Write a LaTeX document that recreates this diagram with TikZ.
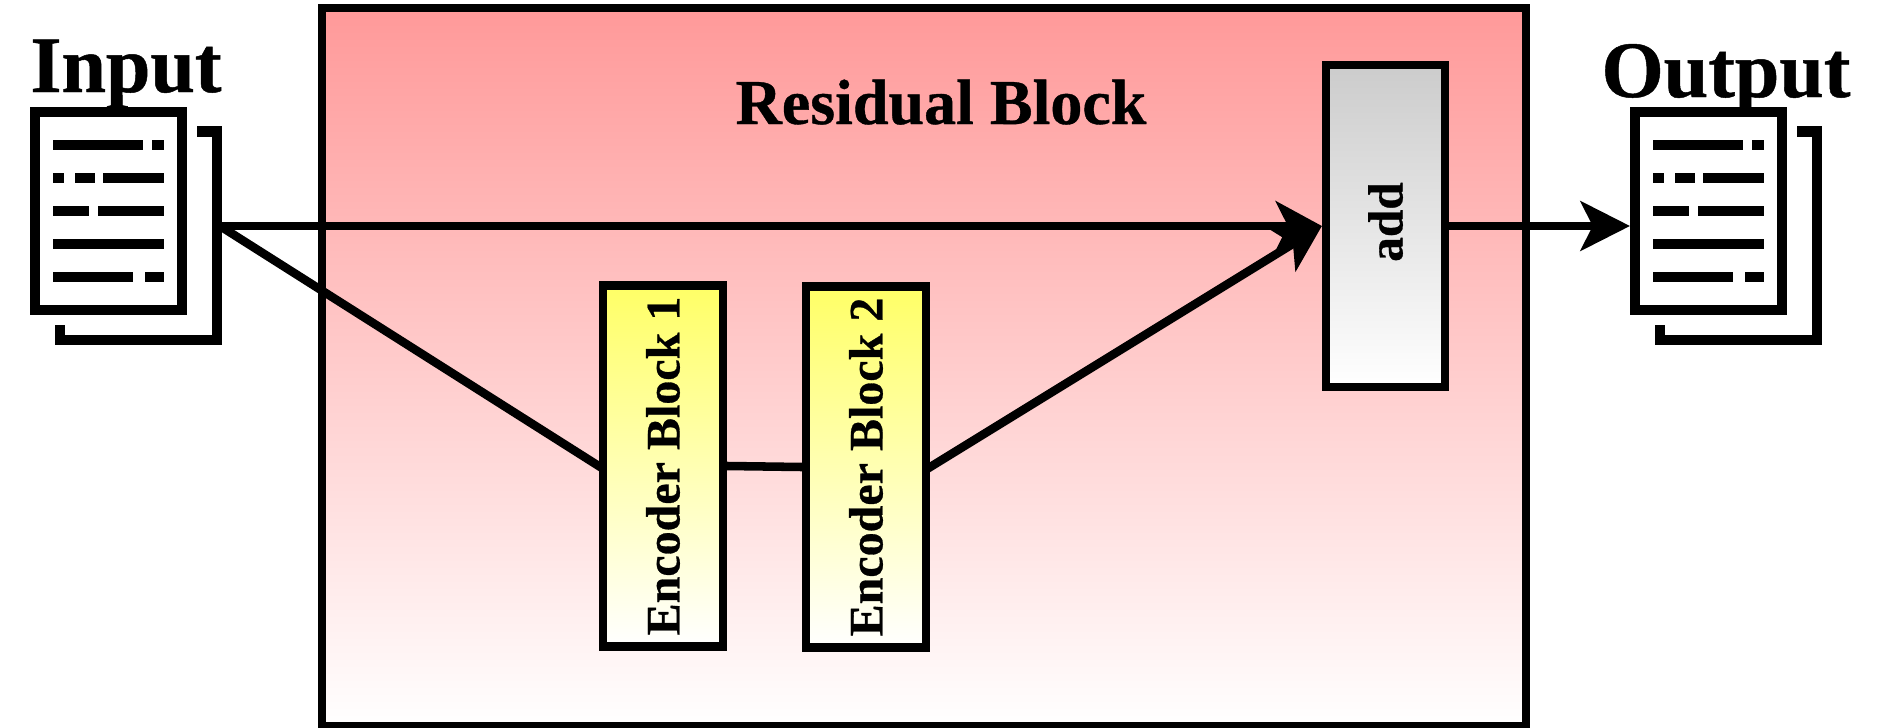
\documentclass[tikz,border=0pt]{standalone}
\usepackage{fontspec}
\setmainfont{Liberation Serif}[BoldFeatures={FakeBold=0.6}]
\usetikzlibrary{arrows.meta}

\tikzset{
	blockbox/.style={draw=black,line width=6.4pt,inner sep=0pt,rectangle},
	residualbox/.style={blockbox,top color={rgb,255:red,255;green,153;blue,153},bottom color=white,minimum width=903pt,minimum height=538.5pt},
	encoderbox/.style={blockbox,top color={rgb,255:red,255;green,255;blue,102},bottom color=white,minimum width=90pt,minimum height=271pt,font=\fontsize{36}{36}\selectfont\bfseries},
	addbox/.style={blockbox,top color={rgb,255:red,204;green,204;blue,204},bottom color=white,minimum width=89pt,minimum height=241.5pt,font=\fontsize{37}{37}\selectfont\bfseries},
	sheetbox/.style={draw=black,line width=7.8pt,fill=white,inner sep=0pt,rectangle,minimum width=110.25pt,minimum height=148.5pt},
	sheetline/.style={line width=7.8pt},
	flow/.style={line width=6.4pt},
	flowtip/.style={flow,-{Stealth[length=37pt,width=37pt,inset=9pt]}},
	addtip/.style={flow,-{Stealth[length=34.5pt,width=37pt,inset=9pt]}},
	bigtext/.style={font=\fontsize{60}{60}\selectfont\bfseries,anchor=base,inner sep=0pt},
	titletext/.style={font=\fontsize{48}{48}\selectfont\bfseries,anchor=base,inner sep=0pt},
}

% back sheet and rows of text of one document, #1 is the shift
\newcommand{\sheetrows}[1]{
	\begin{scope}[xshift=#1*0.75pt]
		\draw [sheetline] (197,131.5) -- (217,131.5) -- (217,340) -- (60,340) -- (60,325) ;
		\draw [sheetline] (53,145) -- (143,145) (152,145) -- (164,145) ;
		\draw [sheetline] (53,178) -- (64,178) (75,178) -- (95,178) (103,178) -- (164,178) ;
		\draw [sheetline] (53,211) -- (89,211) (98,211) -- (164,211) ;
		\draw [sheetline] (53,244) -- (164,244) ;
		\draw [sheetline] (53,277) -- (133,277) (145,277) -- (164,277) ;
	\end{scope}
}

\begin{document}
\begin{tikzpicture}[x=0.75pt,y=0.75pt,yscale=-1,xscale=1]
	\useasboundingbox (0,0) rectangle (1888,728);

	% Blocks
	\node [residualbox] (residual) at (924,367) {};
	\node [encoderbox] (encoder1) at (663,466) {\rotatebox{90}{Encoder Block 1}};
	\node [encoderbox] (encoder2) at (866,467) {\rotatebox{90}{Encoder Block 2}};
	\node [addbox] (add) at (1385.5,226) {\rotatebox{90}{\hspace{6pt}add}};

	% Documents
	\node [sheetbox] (inputdoc) at (108.5,211) {};
	\node [sheetbox] (outputdoc) at (1708.5,211) {};
	\sheetrows{0}
	\sheetrows{1600}
	\coordinate (inputend) at (220,226);
	\coordinate (outputend) at (1630,226);

	% Connectors
	\draw [addtip] (inputend) -- (add.west) ;
	\draw [flow, shorten >=-3pt] (inputend) -- (encoder1.west) ;
	\draw [flow, shorten <=-3pt, shorten >=-3pt] (encoder1.east) -- (encoder2.west) ;
	\draw [addtip, shorten <=-3pt] (encoder2.east) -- (add.west) ;
	\draw [flowtip] (add.east) -- (outputend) ;

	% Text Node
	\node [titletext] (residualtitle) at (941,124) {Residual Block};
	% Text Node
	\node [bigtext] (inputtitle) at (126,92) {Input};
	% Text Node
	\node [bigtext] (outputtitle) at (1726,97) {Output};
\end{tikzpicture}
\end{document}
